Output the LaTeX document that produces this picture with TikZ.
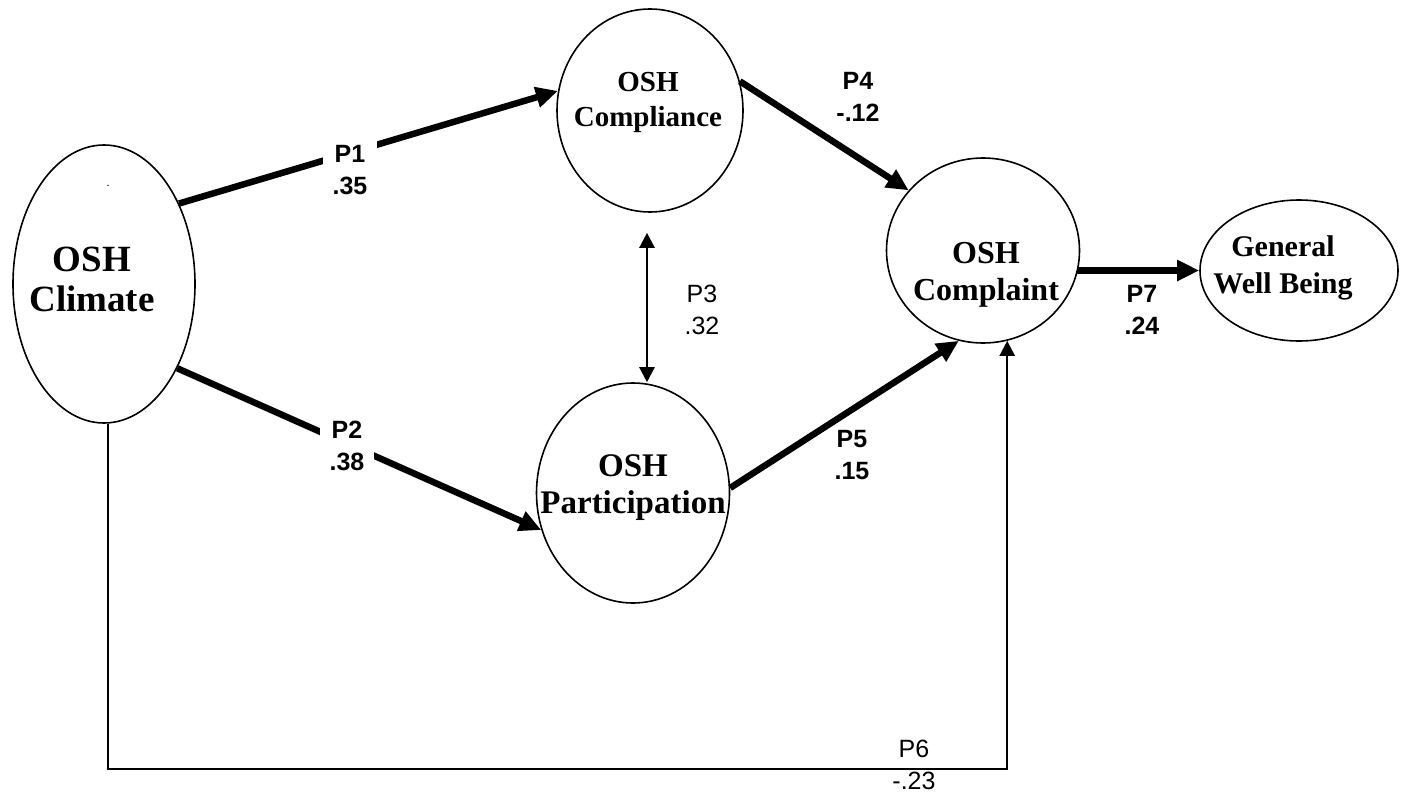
\documentclass[tikz,border=0pt]{standalone}
\usepackage{fontspec}
\setmainfont{Liberation Serif}
\newfontfamily\lsans{Liberation Sans}
\usetikzlibrary{arrows.meta,shapes.geometric}
\begin{document}
\begin{tikzpicture}[x=1pt,y=-1pt,
  construct/.style={draw,ellipse,line width=1.6pt,inner sep=0pt},
  ctext/.style={align=center,font=\bfseries,inner sep=0pt},
  thickarrow/.style={line width=6.5pt,-{Triangle[length=22pt,width=20pt]}},
  thinline/.style={line width=2.4pt},
  coef/.style={align=center,font=\lsans\bfseries\fontsize{25}{32}\selectfont,inner sep=0pt},
  coefplain/.style={align=center,font=\lsans\fontsize{25}{32}\selectfont,inner sep=0pt}
]
\useasboundingbox (0,0) rectangle (1402,800);

% constructs
\node[construct,minimum width=182pt,minimum height=278pt] (clim) at (104,284) {};
\node[construct,minimum width=186pt,minimum height=203pt] (comp) at (650,110.5) {};
\node[construct,minimum width=193pt,minimum height=220pt] (part) at (633,493) {};
\node[construct,minimum width=193pt,minimum height=185pt] (cpl) at (983,250.5) {};
\node[construct,minimum width=198pt,minimum height=141pt] (gwb) at (1299,270.5) {};

% construct names
\node[ctext,font=\bfseries\fontsize{37}{40}\selectfont] (tclim) at (92,279) {OSH\\Climate};
\node[font=\fontsize{12}{12}\selectfont,inner sep=0pt] (dot) at (108,186) {.};
\node[ctext,font=\bfseries\fontsize{29}{35}\selectfont] (tcomp) at (648,102) {OSH\\Compliance};
\node[ctext,font=\bfseries\fontsize{33}{37}\selectfont] (tpart) at (633,488) {OSH\\Participation};
\node[ctext,font=\bfseries\fontsize{32}{37}\selectfont] (tcpl) at (986,275) {OSH\\Complaint};
\node[ctext,font=\bfseries\fontsize{30}{37}\selectfont] (tgwb) at (1283,268) {General\\Well Being};

% path coefficients
\node[coefplain] (l3) at (702,310) {P3\\.32};
\node[coef] (l4) at (858,97) {P4\\-.12};
\node[coef] (l5) at (852,455) {P5\\.15};
\node[coef] (l7) at (1142,310) {P7\\.24};
\node[coefplain] (l6) at (914,765) {P6\\-.23};

\coordinate (base) at (560,769);

% structural paths
\draw[thickarrow] (clim.47) -- (comp.168);
\draw[thickarrow] (clim.-49) -- (part.-158);
\draw[thickarrow] (comp.18) -- (cpl.141);
\draw[thickarrow] (part.3) -- (cpl.-105);
\draw[thickarrow] ([xshift=-3pt]cpl.east |- gwb.west) -- (gwb.west);
\draw[thinline,shorten <=20pt,{Triangle[length=15pt,width=15pt]}-{Triangle[length=15pt,width=15pt]}]
  ([xshift=-3pt]comp.south) -- ([xshift=-3pt]comp.south |- part.north);
\draw[thinline,-{Triangle[length=15pt,width=15pt]}]
  ([xshift=4pt]clim.south) |- (base) -| (cpl.-75);

% coefficient boxes sit over the lines they label
\node[coef,fill=white,inner xsep=10pt,inner ysep=4pt] (l1) at (350,170) {P1\\.35};
\node[coef,fill=white,inner xsep=10pt,inner ysep=4pt] (l2) at (347,446) {P2\\.38};
\end{tikzpicture}
\end{document}
